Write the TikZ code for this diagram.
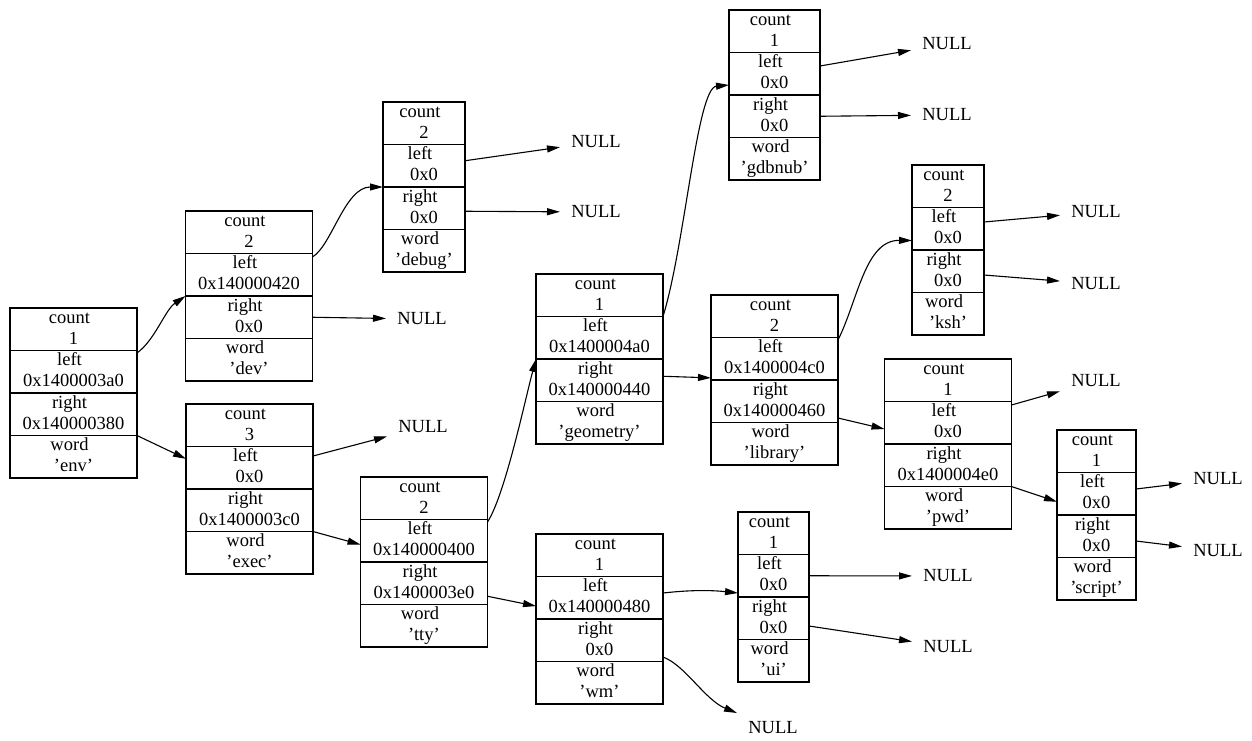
\documentclass[tikz,border=0pt]{standalone}
\usepackage{fontspec}
\setmainfont{Liberation Serif}
\usetikzlibrary{arrows.meta,calc}
\tikzset{
  cell/.style={draw, line width=1.1pt, minimum height=42.5pt, inner sep=0pt, outer sep=0pt, align=center, font=\fontsize{18.5}{21}\selectfont, anchor=north},
  recbox/.style={inner sep=0pt, outer sep=0pt, minimum height=170pt},
  nul/.style={inner sep=0pt, outer sep=0pt, minimum width=72pt, minimum height=46pt, font=\fontsize{18.5}{21}\selectfont},
  arr/.style={line width=1.1pt, -{Triangle[length=13pt,width=7pt]}},
}
\newcommand\twol[2]{\rule{0pt}{14pt}#1\kern8pt\\#2\rule[-5pt]{0pt}{5pt}}
\newcommand\recrd[8]{%
  \node[recbox, minimum width=#4pt] (#1) at (#2,#3+85) {};
  \node[cell, minimum width=#4pt] (#1-c) at (#2,#3) {\twol{count}{#5}};
  \node[cell, minimum width=#4pt] (#1-l) at (#1-c.south) {\twol{left}{#6}};
  \node[cell, minimum width=#4pt] (#1-r) at (#1-l.south) {\twol{right}{#7}};
  \node[cell, minimum width=#4pt] (#1-w) at (#1-r.south) {\twol{word}{#8}};
}
\begin{document}
\begin{tikzpicture}[x=1pt,y=-1pt]
\useasboundingbox (0,0) rectangle (1252,740);
\recrd{env}{73.5}{308}{127}{1}{0x1400003a0}{0x140000380}{'env'}
\recrd{dev}{249}{211}{127}{2}{0x140000420}{0x0}{'dev'}
\recrd{exec}{249.5}{404}{127}{3}{0x0}{0x1400003c0}{'exec'}
\recrd{debug}{424}{102}{82}{2}{0x0}{0x0}{'debug'}
\recrd{tty}{424}{477}{127}{2}{0x140000400}{0x1400003e0}{'tty'}
\recrd{geometry}{599.5}{274}{127}{1}{0x1400004a0}{0x140000440}{'geometry'}
\recrd{wm}{599.5}{534}{127}{1}{0x140000480}{0x0}{'wm'}
\recrd{gdbnub}{774.5}{10}{91}{1}{0x0}{0x0}{'gdbnub'}
\recrd{library}{774.5}{295}{127}{2}{0x1400004c0}{0x140000460}{'library'}
\recrd{ui}{773.5}{512}{71}{1}{0x0}{0x0}{'ui'}
\recrd{ksh}{948}{165}{72}{2}{0x0}{0x0}{'ksh'}
\recrd{pwd}{948}{359}{127}{1}{0x0}{0x1400004e0}{'pwd'}
\recrd{script}{1096.5}{430}{79}{1}{0x0}{0x0}{'script'}
% NULL nodes
\node[nul] (n1) at (596,142) {NULL};
\node[nul] (n2) at (596,212) {NULL};
\node[nul] (n3) at (422,319) {NULL};
\node[nul] (n4) at (423,427) {NULL};
\node[nul] (n5) at (947,44) {NULL};
\node[nul] (n6) at (947,115) {NULL};
\node[nul] (n7) at (1096,212) {NULL};
\node[nul] (n8) at (1096,284) {NULL};
\node[nul] (n9) at (1096,381) {NULL};
\node[nul] (n10) at (1218,479) {NULL};
\node[nul] (n11) at (1218,551) {NULL};
\node[nul] (n12) at (948,576) {NULL};
\node[nul] (n13) at (948,647) {NULL};
\node[nul] (n14) at (773,728) {NULL};
% edges
\draw[arr] ($(env-l.north east)+(0,2.5)$) .. controls (155,340) and (165,310) .. (dev.west);
\draw[arr] (env-r.south east) -- (exec);
\draw[arr] ($(dev-l.north east)+(0,3.5)$) .. controls (332,245) and (345,187) .. (debug.west);
\draw[arr] (dev-r.east) -- (n3);
\draw[arr] ($(exec-l.north east)+(0,9.5)$) -- (n4);
\draw[arr] (exec-r.south east) -- (tty);
\draw[arr] ($(debug-l.east)+(0,-5)$) -- (n1);
\draw[arr] ($(debug-r.east)+(0,3)$) -- (n2);
\draw[arr] ($(tty-l.north east)+(0,2.5)$) .. controls (505,495) and (525,400) .. (geometry.west);
\draw[arr] ($(tty-r.east)+(0,13)$) -- (wm);
\draw[arr] (geometry-l.north east) .. controls (685,245) and (697,88) .. ($(gdbnub.west)+(0,-10)$);
\draw[arr] ($(geometry-r.east)+(0,-4)$) -- (library);
\draw[arr] ($(gdbnub-l.east)+(0,-7.75)$) -- (n5);
\draw[arr] (gdbnub-r.east) -- (n6);
\draw[arr] ($(library-l.north east)+(0,2.5)$) .. controls (858,300) and (865,240) .. ($(ksh.west)+(0,-9.5)$);
\draw[arr] ($(library-r.south east)+(0,-4.5)$) -- (pwd);
\draw[arr] ($(ksh-l.east)+(0,-6.75)$) -- (n7);
\draw[arr] ($(ksh-r.east)+(0,3.75)$) -- (n8);
\draw[arr] ($(pwd-l.north east)+(0,3.5)$) -- (n9);
\draw[arr] (pwd-r.south east) -- (script);
\draw[arr] ($(script-l.east)+(0,-4.75)$) -- (n10);
\draw[arr] ($(script-r.east)+(0,4.75)$) -- (n11);
\draw[arr] ($(wm-l.north east)+(0,16.5)$) .. controls (690,590) and (710,590) .. ($(ui.west)+(0,-4)$);
\draw[arr] ($(wm-r.south east)+(0,-4.5)$) .. controls (685,665) and (705,700) .. ($(n14.west)+(0,-15)$);
\draw[arr] (ui-l.east) -- (n12);
\draw[arr] ($(ui-r.east)+(0,7.75)$) -- (n13);
\end{tikzpicture}
\end{document}
